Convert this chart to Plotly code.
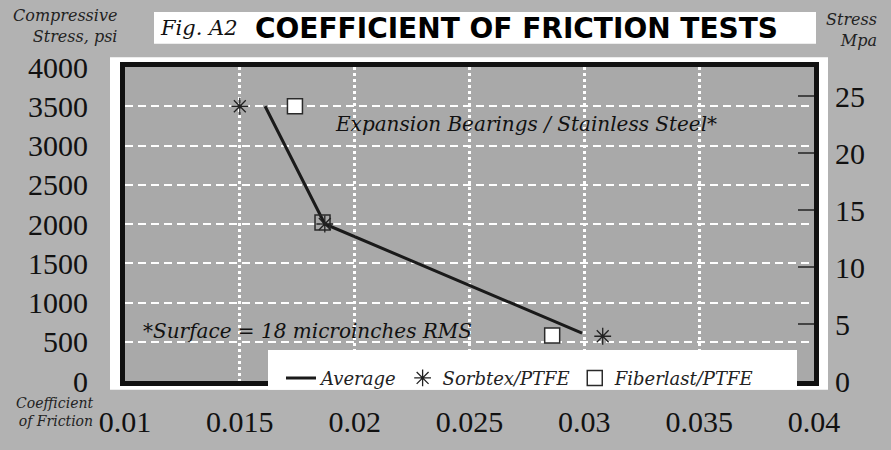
import plotly.graph_objects as go

# ---- data ----
avg_friction = [0.0161, 0.0187, 0.0299]
avg_stress = [3500, 2000, 610]

sorbtex_friction = [0.0150, 0.0187, 0.0308]
sorbtex_stress = [3500, 2000, 570]

fiberlast_friction = [0.0174, 0.0186, 0.0286]
fiberlast_stress = [3500, 2020, 580]

x_ticks = [0.01, 0.015, 0.02, 0.025, 0.03, 0.035, 0.04]
x_tick_labels = ["0.01", "0.015", "0.02", "0.025", "0.03", "0.035", "0.04"]
y_ticks = [0, 500, 1000, 1500, 2000, 2500, 3000, 3500, 4000]
y_tick_labels = ["0", "500", "1000", "1500", "2000", "2500", "3000", "3500", "4000"]
mpa_ticks = [0, 5, 10, 15, 20, 25]
mpa_tick_labels = ["0", "5", "10", "15", "20", "25"]
PSI_PER_MPA = 145.0377

# ---- geometry helpers (pixels -> paper) ----
W, H = 891, 450
L, R, T, B = 125, 814, 67, 392
PW, PH = R - L, B - T


def px(x):
    return (x - L) / PW


def py(y):
    return (B - y) / PH


BG = "#b2b2b2"
PLOT_BG = "#a9a9a9"
SERIF = "Liberation Serif"
ISERIF = "DejaVu Serif"

fig = go.Figure()
fig.add_trace(go.Scatter(
    x=avg_friction, y=avg_stress, mode="lines", name="Average", legendrank=1,
    line=dict(color="#1a1a1a", width=3),
))
fig.add_trace(go.Scatter(
    x=fiberlast_friction, y=fiberlast_stress, mode="markers", name="Fiberlast/PTFE",
    legendrank=3,
    marker=dict(symbol="square", size=15,
                color=["white", "rgba(0,0,0,0)", "white"],
                line=dict(color="#2a2a2a", width=1.5)),
))
fig.add_trace(go.Scatter(
    x=sorbtex_friction, y=sorbtex_stress, mode="markers", name="Sorbtex/PTFE",
    legendrank=2,
    marker=dict(symbol="asterisk-open", size=14, color="#222222",
                line=dict(color="#222222", width=1.3)),
))
# empty trace so the MPa axis is drawn
fig.add_trace(go.Scatter(x=[], y=[], yaxis="y2", showlegend=False, hoverinfo="skip"))

shapes = [
    # white frame
    dict(type="rect", xref="paper", yref="paper", x0=px(110), x1=px(828),
         y0=py(401), y1=py(57), fillcolor="white", line=dict(width=0), layer="below"),
    # plot gray
    dict(type="rect", xref="paper", yref="paper", x0=0, x1=1, y0=0, y1=1,
         fillcolor=PLOT_BG, line=dict(width=0), layer="below"),
    # title box
    dict(type="rect", xref="paper", yref="paper", x0=px(154), x1=px(816),
         y0=py(43), y1=py(10), fillcolor="white", line=dict(width=0), layer="below"),
    # legend box
    dict(type="rect", xref="paper", yref="paper", x0=px(268), x1=px(797),
         y0=py(401), y1=py(360), fillcolor="white", line=dict(width=0), layer="above"),
]


def ann(text, x, y, xa, ya, font, align="left"):
    return dict(text=text, x=px(x), y=py(y), xref="paper", yref="paper",
                xanchor=xa, yanchor=ya, align=align, showarrow=False, font=font)


ital16 = dict(family=ISERIF, size=16, style="italic", color="#222")
annotations = [
    ann("Compressive<br>Stress, psi", 119, 2, "right", "top", ital16, "right"),
    ann("Fig. A2", 158, 27, "left", "middle",
        dict(family=ISERIF, size=21, style="italic", color="#111")),
    ann("<b>COEFFICIENT OF FRICTION TESTS</b>", 253, 27, "left", "middle",
        dict(family="DejaVu Sans", size=28, color="#000")),
    ann("Stress<br>Mpa", 879, 6, "right", "top", ital16, "right"),
    ann("Coefficient<br>of Friction", 95, 404, "right", "top",
        dict(family=ISERIF, size=14, style="italic", color="#222"), "right"),
    ann("Expansion Bearings / Stainless Steel*", 333, 126, "left", "middle",
        dict(family=ISERIF, size=20, style="italic", color="#111")),
    ann("*Surface = 18 microinches RMS", 141, 340, "left", "middle",
        dict(family=ISERIF, size=20, style="italic", color="#111")),
]

fig.update_layout(
    width=W, height=H,
    margin=dict(l=L, r=W - R, t=T, b=H - B, pad=0),
    paper_bgcolor=BG, plot_bgcolor=PLOT_BG,
    shapes=shapes, annotations=annotations,
    showlegend=True,
    legend=dict(orientation="h", x=px(281), y=py(370), xanchor="left", yanchor="top",
                bgcolor="rgba(0,0,0,0)", borderwidth=0, traceorder="normal",
                font=dict(family=ISERIF, size=18, style="italic", color="#222"),
                itemwidth=30),
    xaxis=dict(range=[0.01, 0.04], tickvals=x_ticks, ticktext=x_tick_labels,
               showline=True, mirror=True, linecolor="#111", linewidth=5,
               showgrid=True, gridcolor="white", gridwidth=3, griddash="3px,3px",
               zeroline=False, ticks="", ticklabelstandoff=10,
               tickfont=dict(family=SERIF, size=30, color="#111")),
    yaxis=dict(range=[0, 4000], tickvals=y_ticks, ticktext=y_tick_labels,
               showline=True, mirror=True, linecolor="#111", linewidth=5,
               showgrid=True, gridcolor="white", gridwidth=2, griddash="8px,5px",
               zeroline=False, ticks="", ticklabelstandoff=26,
               tickfont=dict(family=SERIF, size=30, color="#111")),
    yaxis2=dict(range=[0, 4000 / PSI_PER_MPA], tickvals=mpa_ticks, ticktext=mpa_tick_labels,
                overlaying="y", side="right", anchor="x", showgrid=False,
                zeroline=False, showline=False, ticks="inside", ticklen=16,
                tickwidth=1.5, tickcolor="#444", ticklabelstandoff=20,
                tickfont=dict(family=SERIF, size=30, color="#111")),
)

fig.write_html(
    "out.html",
    config={"displayModeBar": False},
    post_script="document.body.style.margin='0';document.body.style.background='" + BG + "';",
)
